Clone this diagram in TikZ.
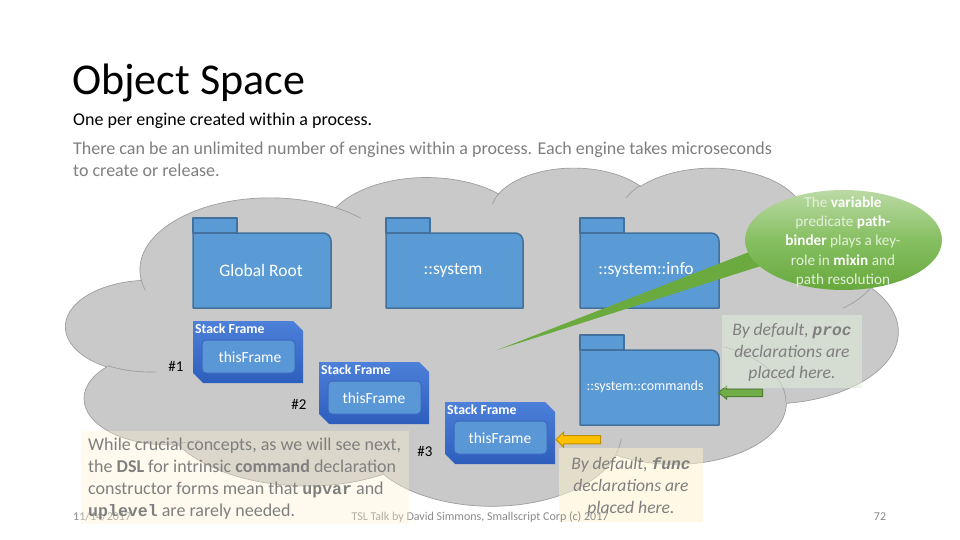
\documentclass[tikz,border=0pt]{standalone}
\usepackage{fontspec}
\setmainfont{Carlito}
\setmonofont{Liberation Mono}[Scale=0.92]
\usetikzlibrary{shapes.geometric}

\definecolor{cloudgray}{HTML}{C9C9C9}
\definecolor{cloudline}{HTML}{9E9E9E}
\definecolor{fldblue}{HTML}{5B9BD5}
\definecolor{fldline}{HTML}{41719C}
\definecolor{sftop}{HTML}{4D80D9}
\definecolor{sfbot}{HTML}{2E5EBD}
\definecolor{sfinner}{HTML}{5A97D6}
\definecolor{sfinline}{HTML}{3A68BE}
\definecolor{txtgray}{HTML}{7F7F7F}
\definecolor{foottxt}{HTML}{8B8B8B}
\definecolor{yarrowfill}{HTML}{FFC000}
\definecolor{yarrowline}{HTML}{BF9000}
\definecolor{garrowfill}{HTML}{70AD47}
\definecolor{garrowline}{HTML}{507E32}
\definecolor{calltop}{HTML}{BBDAA5}
\definecolor{callmid}{HTML}{86BF61}
\definecolor{callbot}{HTML}{67A93D}
\definecolor{callwedge}{HTML}{6BAA3F}
\definecolor{calltxt}{HTML}{E3EFDA}
\definecolor{boxgreen}{HTML}{E2EFDA}
\definecolor{boxyellow}{HTML}{FFF2CC}

\newcommand{\cloudprep}[5]{%
  \pgfmathsetmacro{\rsA}{#4}%
  \pgfmathsetmacro{\rsB}{#4+#5}%
  \pgfmathsetmacro{\rsS}{atan2(#2*sin(\rsA),#3*cos(\rsA))}%
  \pgfmathsetmacro{\rsE}{atan2(#2*sin(\rsB),#3*cos(\rsB))}%
  \pgfmathsetmacro{\rsD}{\rsE-\rsS}%
  \pgfmathsetmacro{\rsD}{ifthenelse(\rsD<0,\rsD+360,\rsD)}%
  \expandafter\xdef\csname cloudS#1\endcsname{\rsS}%
  \expandafter\xdef\csname cloudD#1\endcsname{\rsD}%
}
\newcommand{\pkgfolder}[4]{% left, body top, right, bottom
  \filldraw[fld] (#1,#2-15) rectangle (#1+44,#2);
  \filldraw[fld] (#1,#2) -- (#3-8,#2) arc[start angle=-90, delta angle=90, radius=8] -- (#3,#4) -- (#1,#4) -- cycle;
}
\newcommand{\stackframe}[2]{% left, top
  \path[sfshape] (#1,#2) -- (#1+100,#2) -- (#1+110,#2+10) -- (#1+110,#2+62) -- (#1+10,#2+62) -- (#1,#2+52) -- cycle;
  \filldraw[sfin] (#1+9,#2+19) rectangle (#1+102,#2+52);
}

\begin{document}
\begin{tikzpicture}[x=1pt,y=-1pt,
  cloudshape/.style={fill=cloudgray, draw=cloudline, line width=0.7pt},
  cloudthin/.style={draw=cloudline, line width=0.7pt},
  fld/.style={fill=fldblue, draw=fldline, line width=1.5pt, line join=round},
  fldtext/.style={text=white, font=\fontsize{17.5}{20}\selectfont, inner sep=0pt},
  sfshape/.style={top color=sftop, bottom color=sfbot},
  sfin/.style={fill=sfinner, draw=sfinline, line width=1pt, rounded corners=4pt},
  sflabel/.style={text=white, font=\fontsize{13.8}{15}\selectfont\bfseries, inner sep=0pt, anchor=west},
  sfthis/.style={text=white, font=\fontsize{15.5}{17}\selectfont, inner sep=0pt},
  numlab/.style={text=black, font=\fontsize{15}{17}\selectfont, inner sep=0pt},
  blockarrowY/.style={fill=yarrowfill, draw=yarrowline, line width=1pt, line join=miter},
  blockarrowG/.style={fill=garrowfill, draw=garrowline, line width=1pt, line join=miter},
  linetxt/.style={inner sep=0pt, anchor=base west},
  ctrtxt/.style={inner sep=0pt, anchor=base},
  boxtxt/.style={text=txtgray, font=\fontsize{18}{21}\selectfont},
  itbox/.style={text=txtgray, font=\fontsize{17.6}{21}\selectfont\itshape},
  calltext/.style={text=calltxt, font=\fontsize{15.2}{17}\selectfont},
  foot/.style={text=foottxt, font=\fontsize{12}{14}\selectfont, inner sep=0pt}
]
\useasboundingbox (0,0) rectangle (960,540);
\fill[white] (0,0) rectangle (960,540);

% ---- cloud ----
\cloudprep{a}{675.3}{919.0}{-190.4875}{123.7805}
\cloudprep{b}{533.3}{726.7}{-144.1024}{89.9452}
\cloudprep{c}{436.5}{594.5}{-145.8079}{99.7230}
\cloudprep{d}{485.7}{659.5}{-130.9861}{117.2417}
\cloudprep{e}{533.3}{727.3}{-78.7089}{109.0269}
\cloudprep{f}{677.5}{922.0}{-46.2673}{130.2690}
\cloudprep{g}{578.5}{786.7}{0.6250}{114.0333}
\cloudprep{h}{675.2}{921.5}{22.4516}{115.1726}
\cloudprep{i}{772.0}{1054.3}{66.2426}{75.7110}
\cloudprep{j}{436.0}{591.8}{-274.9421}{146.7356}
\cloudprep{k}{434.5}{594.5}{-246.8285}{152.5189}
\cloudprep{ia}{434.5}{594.5}{86.7420}{26.4295}
\cloudprep{ib}{436.0}{591.8}{73.6105}{11.4475}
\cloudprep{ic}{675.2}{921.5}{137.6242}{14.0811}
\cloudprep{id}{675.2}{921.5}{6.4533}{15.9984}
\cloudprep{ie}{578.5}{786.7}{-70.2924}{70.9174}
\cloudprep{if}{533.3}{727.3}{30.3180}{27.7515}
\cloudprep{ig}{485.7}{659.5}{-13.7443}{14.8589}
\cloudprep{ih}{485.7}{659.5}{-149.1815}{18.1954}
\cloudprep{ii}{436.5}{594.5}{-163.4943}{17.6864}
\cloudprep{ij}{675.3}{919.0}{-66.7070}{12.3194}
\cloudprep{ik}{675.3}{919.0}{157.6544}{11.8582}
\begin{scope}[xshift=66pt, yshift=-167pt, x=0.192593pt, y=-0.0782407pt]
  \path[cloudshape] (390,1437)
    arc[start angle=\cloudSa, delta angle=\cloudDa, x radius=675.3, y radius=919.0]
    arc[start angle=\cloudSb, delta angle=\cloudDb, x radius=533.3, y radius=726.7]
    arc[start angle=\cloudSc, delta angle=\cloudDc, x radius=436.5, y radius=594.5]
    arc[start angle=\cloudSd, delta angle=\cloudDd, x radius=485.7, y radius=659.5]
    arc[start angle=\cloudSe, delta angle=\cloudDe, x radius=533.3, y radius=727.3]
    arc[start angle=\cloudSf, delta angle=\cloudDf, x radius=677.5, y radius=922.0]
    arc[start angle=\cloudSg, delta angle=\cloudDg, x radius=578.5, y radius=786.7]
    arc[start angle=\cloudSh, delta angle=\cloudDh, x radius=675.2, y radius=921.5]
    arc[start angle=\cloudSi, delta angle=\cloudDi, x radius=772.0, y radius=1054.3]
    arc[start angle=\cloudSj, delta angle=\cloudDj, x radius=436.0, y radius=591.8]
    arc[start angle=\cloudSk, delta angle=\cloudDk, x radius=434.5, y radius=594.5]
    -- cycle;
  \path[cloudthin]
    (469.3,2617.7) arc[start angle=\cloudSia, delta angle=\cloudDia, x radius=434.5, y radius=594.5]
    (692.8,3489.9) arc[start angle=\cloudSib, delta angle=\cloudDib, x radius=436.0, y radius=591.8]
    (1647.8,3909.0) arc[start angle=\cloudSic, delta angle=\cloudDic, x radius=675.2, y radius=921.5]
    (2882.7,3475.1) arc[start angle=\cloudSid, delta angle=\cloudDid, x radius=675.2, y radius=921.5]
    (3412.9,2295.4) arc[start angle=\cloudSie, delta angle=\cloudDie, x radius=578.5, y radius=786.7]
    (4179.8,1535.4) arc[start angle=\cloudSif, delta angle=\cloudDif, x radius=533.3, y radius=727.3]
    (3832.4,542.6) arc[start angle=\cloudSig, delta angle=\cloudDig, x radius=485.7, y radius=659.5]
    (2907.8,395.2) arc[start angle=\cloudSih, delta angle=\cloudDih, x radius=485.7, y radius=659.5]
    (2214.1,472.0) arc[start angle=\cloudSii, delta angle=\cloudDii, x radius=436.5, y radius=594.5]
    (1400.0,519.2) arc[start angle=\cloudSij, delta angle=\cloudDij, x radius=675.3, y radius=919.0]
    (412.7,1578.9) arc[start angle=\cloudSik, delta angle=\cloudDik, x radius=675.3, y radius=919.0];
\end{scope}

% ---- title texts ----
\node[linetxt, font=\fontsize{44}{50}\selectfont] (title) at (72,95) {Object Space};
\node[linetxt, font=\fontsize{18}{22}\selectfont] (sub) at (73,126) {One per engine created within a process.};
\node[linetxt, text=txtgray, font=\fontsize{18}{22}\selectfont] (body1) at (73,155) {There can be an unlimited number of engines within a process. Each engine takes microseconds};
\node[linetxt, text=txtgray, font=\fontsize{18}{22}\selectfont] (body2) at (73,176) {to create or release.};

% ---- folders ----
\pkgfolder{193}{233}{331}{308}
\node[fldtext] (groot) at (261,270) {Global Root};
\pkgfolder{386}{233}{523}{308}
\node[fldtext] (sys) at (453,270) {::system};
\pkgfolder{580}{233}{719}{308}
\node[fldtext] (sysinfo) at (646,270) {::system::info};
\pkgfolder{580}{350}{719}{425}
\node[fldtext, font=\fontsize{14}{16}\selectfont] (syscmd) at (645,387) {::system::commands};

% ---- stack frames ----
\stackframe{193}{321}
\node[sflabel] (sf1) at (195,329) {Stack Frame};
\node[sfthis] (tf1) at (250,357) {thisFrame};
\node[numlab] (n1) at (176,366) {\#1};
\stackframe{319}{362}
\node[sflabel] (sf2) at (321,370) {Stack Frame};
\node[sfthis] (tf2) at (374,398) {thisFrame};
\node[numlab] (n2) at (299,404) {\#2};
\stackframe{445}{402}
\node[sflabel] (sf3) at (447,410) {Stack Frame};
\node[sfthis] (tf3) at (500,438) {thisFrame};
\node[numlab] (n3) at (425,451) {\#3};

% ---- block arrows ----
\filldraw[blockarrowY] (556,439.7) -- (563.5,432.3) -- (563.5,435.6) -- (600.5,435.6) -- (600.5,443.8) -- (563.5,443.8) -- (563.5,447.1) -- cycle;
\filldraw[blockarrowG] (718.5,392.5) -- (726.5,386) -- (726.5,389) -- (762.5,389) -- (762.5,396.5) -- (726.5,396.5) -- (726.5,399) -- cycle;

% ---- green callout ----
\coordinate (wedgetip) at (497,350);
\fill[callwedge] (wedgetip) -- (762,247) -- (764,265) -- cycle;
\node[ellipse, minimum width=197pt, minimum height=100pt, inner sep=0pt,
      top color=calltop, bottom color=callbot, middle color=callmid] (callout) at (843.5,240) {};
\node[ctrtxt, calltext] (c1) at (843,207) {The \textcolor{white}{\textbf{variable}}};
\node[ctrtxt, calltext] (c2) at (843,226) {predicate \textcolor{white}{\textbf{path-}}};
\node[ctrtxt, calltext] (c3) at (843,245.5) {\textcolor{white}{\textbf{binder}} plays a key-};
\node[ctrtxt, calltext] (c4) at (843,265) {role in \textcolor{white}{\textbf{mixin}} and};
\node[ctrtxt, calltext] (c5) at (843,284.5) {path resolution};

% ---- proc box ----
\node[fill=boxgreen, fill opacity=0.5, draw=none, minimum width=140pt, minimum height=73pt, inner sep=0pt, anchor=north west] (procbox) at (722,315) {};
\node[ctrtxt, itbox] (p1) at (792,335.5) {By default, {\ttfamily\bfseries proc}};
\node[ctrtxt, itbox] (p2) at (792,357) {declarations are};
\node[ctrtxt, itbox] (p3) at (792,378.5) {placed here.};

% ---- func box ----
\node[fill=boxyellow, fill opacity=0.5, draw=none, minimum width=144pt, minimum height=74pt, inner sep=0pt, anchor=north west] (funcbox) at (559,448) {};
\node[ctrtxt, itbox] (f1) at (631,469.5) {By default, {\ttfamily\bfseries func}};
\node[ctrtxt, itbox] (f2) at (631,491) {declarations are};
\node[ctrtxt, itbox] (f3) at (631,513) {placed here.};

% ---- footer ----
\node[foot, anchor=base west] (date) at (73,520) {11/14/2017};
\node[foot, anchor=base] (talk) at (480,520) {TSL Talk by David Simmons, Smallscript Corp (c) 2017};
\node[foot, anchor=base] (pageno) at (880,520) {72};

% ---- left box ----
\node[fill=boxyellow, fill opacity=0.35, draw=none, minimum width=328pt, minimum height=93pt, inner sep=0pt, anchor=north west] (whilebox) at (81,431) {};
\node[linetxt, boxtxt] (w1) at (88,450.5) {While crucial concepts, as we will see next,};
\node[linetxt, boxtxt] (w2) at (88,472.5) {the \textbf{DSL} for intrinsic \textbf{command} declaration};
\node[linetxt, boxtxt] (w3) at (88,494.5) {constructor forms mean that {\ttfamily\bfseries upvar} and};
\node[linetxt, boxtxt] (w4) at (88,516.5) {{\ttfamily\bfseries uplevel} are rarely needed.};
\end{tikzpicture}
\end{document}
